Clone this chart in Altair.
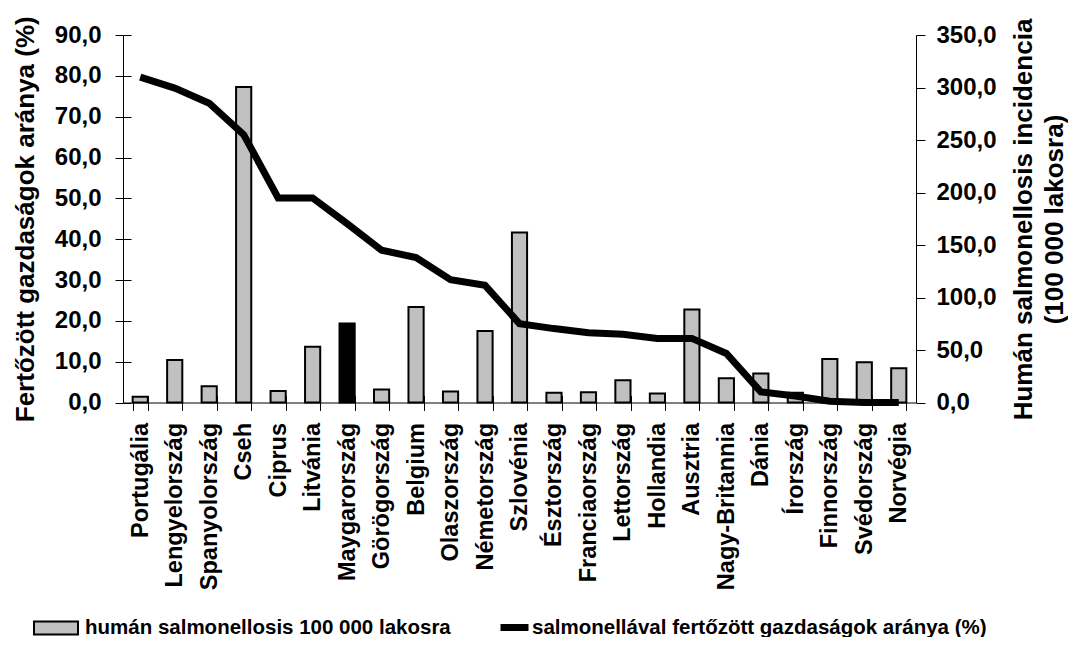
import altair as alt
import pandas as pd

countries = ["Portugália", "Lengyelország", "Spanyolország", "Cseh", "Ciprus",
             "Litvánia", "Maygarország", "Görögország", "Belgium", "Olaszország",
             "Németország", "Szlovénia", "Észtország", "Franciaország", "Lettország",
             "Hollandia", "Ausztria", "Nagy-Britannia", "Dánia", "Írország",
             "Finnország", "Svédország", "Norvégia"]

# humán salmonellosis / 100 000 lakos (right axis)
incidence = [5.5, 40.5, 15.5, 300.5, 11.0, 53.0, 75.2, 12.5, 91.0, 10.5,
             68.0, 162.0, 9.2, 9.8, 21.3, 8.6, 88.6, 23.2, 27.7, 9.2,
             41.5, 38.4, 32.7]

# salmonellával fertőzött gazdaságok aránya, % (left axis)
infected_pct = [79.7, 77.0, 73.3, 65.6, 50.1, 50.1, 43.8, 37.3, 35.5, 30.1,
                28.7, 19.3, 18.1, 17.1, 16.7, 15.7, 15.7, 12.0, 2.6, 1.6,
                0.3, 0.0, 0.0]

bar_label = "humán salmonellosis 100 000 lakosra"
line_label = "salmonellával fertőzött gazdaságok aránya (%)"
highlight = "Maygarország"

left_ticks = [0, 10, 20, 30, 40, 50, 60, 70, 80, 90]
right_ticks = [0, 50, 100, 150, 200, 250, 300, 350]

df = pd.DataFrame({"country": countries, "incidence": incidence, "pct": infected_pct})
df["barseries"] = ["Magyarország" if c == highlight else bar_label for c in countries]
df["lineseries"] = line_label

FONT = "Liberation Sans"
fmt = "replace(format(datum.value, '.1f'), '.', ',')"


def xscale():
    return alt.Scale(type="band", domain=countries, paddingInner=0.56, paddingOuter=0.28)


bars = alt.Chart(df).mark_bar(stroke="black", strokeWidth=2).encode(
    x=alt.X("country:N", scale=xscale(), sort=countries,
            axis=alt.Axis(orient="bottom", title=None, labelAngle=270,
                          labelFontSize=23.5, labelFontWeight="bold", labelFont=FONT,
                          labelColor="black", labelPadding=12, labelLimit=400,
                          labelOverlap=False, labelBound=False,
                          tickBand="extent", tickSize=8, tickColor="black",
                          domainColor="black", grid=False)),
    y=alt.Y("incidence:Q", scale=alt.Scale(domain=[0, 350], nice=False),
            axis=alt.Axis(orient="right", values=right_ticks, labelExpr=fmt,
                          labelFontSize=24, labelFontWeight="bold", labelFont=FONT,
                          labelColor="black", labelPadding=11, tickSize=9,
                          tickColor="black", domainColor="black", grid=False,
                          title=["Humán salmonellosis incidencia", "(100 000 lakosra)"],
                          titleAngle=270, titleBaseline="top", titleX=94, titleY=184,
                          titleLineHeight=31, titleFontSize=26, titleFontWeight="bold",
                          titleFont=FONT, titleColor="black")),
    fill=alt.Fill("barseries:N",
                  scale=alt.Scale(domain=[bar_label, "Magyarország"], range=["#c0c0c0", "#000000"]),
                  legend=alt.Legend(values=[bar_label], orient="none", legendX=-90, legendY=570,
                                    title=None, symbolType="M-1,-0.3H1V0.3H-1Z", symbolSize=1936,
                                    symbolStrokeColor="black", symbolStrokeWidth=2,
                                    symbolFillColor="#c0c0c0",
                                    labelFontSize=20.5, labelFont=FONT, labelFontWeight="bold",
                                    labelColor="black", labelOffset=6, labelLimit=600, padding=0)),
)

line = alt.Chart(df).mark_line(strokeWidth=7, strokeJoin="miter").encode(
    x=alt.X("country:N", scale=xscale(), sort=countries, axis=None),
    y=alt.Y("pct:Q", scale=alt.Scale(domain=[0, 90], nice=False),
            axis=alt.Axis(orient="left", values=left_ticks, labelExpr=fmt,
                          labelFontSize=24, labelFontWeight="bold", labelFont=FONT,
                          labelColor="black", labelPadding=14, tickSize=8,
                          tickColor="black", domainColor="black", grid=False,
                          title="Fertőzött gazdaságok aránya (%)", titlePadding=16,
                          titleFontSize=26, titleFontWeight="bold", titleFont=FONT,
                          titleColor="black")),
    stroke=alt.Stroke("lineseries:N", scale=alt.Scale(domain=[line_label], range=["black"]),
                      legend=alt.Legend(orient="none", legendX=374, legendY=575, title=None,
                                        symbolType="stroke", symbolSize=784, symbolStrokeWidth=7,
                                        symbolStrokeColor="black",
                                        labelFontSize=20.5, labelFont=FONT, labelFontWeight="bold",
                                        labelColor="black", labelOffset=0, labelLimit=600,
                                        padding=0)),
)

# inner halves of the crossing tick marks
inner = alt.Chart(df).mark_point(opacity=0).encode(
    x=alt.X("country:N", scale=xscale(), sort=countries,
            axis=alt.Axis(orient="bottom", offset=-7, tickSize=7, labels=False, domain=False,
                          title=None, tickBand="extent", tickColor="black", grid=False)),
    y=alt.Y("pct:Q", scale=alt.Scale(domain=[0, 90], nice=False),
            axis=alt.Axis(orient="left", offset=-8, tickSize=8, labels=False, domain=False,
                          title=None, values=left_ticks, tickColor="black", grid=False)),
)

chart = alt.layer(bars, line, inner).resolve_scale(
    x="independent", y="independent"
).properties(
    width=793,
    height=367.5,
    padding={"left": 115, "top": 27, "right": 152, "bottom": 234},
    autosize=alt.AutoSizeParams(type="none"),
    background="white",
).configure_view(stroke=None)

chart.save("out.html", embed_options={"renderer": "svg", "actions": False})
